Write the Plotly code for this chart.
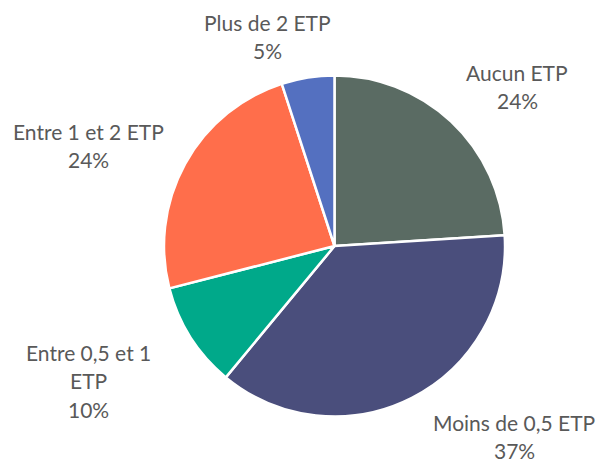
import plotly.graph_objects as go

categories = ["Aucun ETP", "Moins de 0,5 ETP", "Entre 0,5 et 1 ETP", "Entre 1 et 2 ETP", "Plus de 2 ETP"]
values = [24, 37, 10, 24, 5]
colors = ["#5a6b63", "#4a4e7c", "#00a98a", "#ff6e4b", "#5470c0"]

# label line breaks as shown in the reference (wrapping)
label_lines = [
    ["Aucun ETP"],
    ["Moins de 0,5 ETP"],
    ["Entre 0,5 et 1", "ETP"],
    ["Entre 1 et 2 ETP"],
    ["Plus de 2 ETP"],
]
# label block centres in window pixels (x, y of first line)
label_pos = [(517, 72), (514, 422), (88, 352), (88, 131), (267, 22)]

W, H = 599, 461
LINE = 28.5
CX, CY, R = 334.5, 246, 170.5

fig = go.Figure(go.Pie(
    labels=categories,
    values=values,
    marker=dict(colors=colors, line=dict(color="white", width=2.5)),
    sort=False,
    direction="clockwise",
    rotation=0,
    textinfo="none",
    hoverinfo="label+percent",
    domain=dict(x=[(CX - R) / W, (CX + R) / W], y=[(H - CY - R) / H, (H - CY + R) / H]),
    showlegend=False,
))

annotations = []
for lines, v, (px, py) in zip(label_lines, values, label_pos):
    all_lines = lines + [f"{v}%"]
    for i, t in enumerate(all_lines):
        annotations.append(dict(
            x=px / W, y=1 - (py + i * LINE) / H, xref="paper", yref="paper",
            text=t, showarrow=False, xanchor="center", yanchor="middle",
            font=dict(family="Lato, Carlito, sans-serif", size=21, color="#595959"),
        ))

fig.update_layout(
    width=W, height=H,
    margin=dict(l=0, r=0, t=0, b=0),
    paper_bgcolor="white", plot_bgcolor="white",
    annotations=annotations,
)

fig.write_html(
    "out.html",
    config={"displayModeBar": False},
    post_script="document.body.style.margin='0';document.body.style.overflow='hidden';",
)
